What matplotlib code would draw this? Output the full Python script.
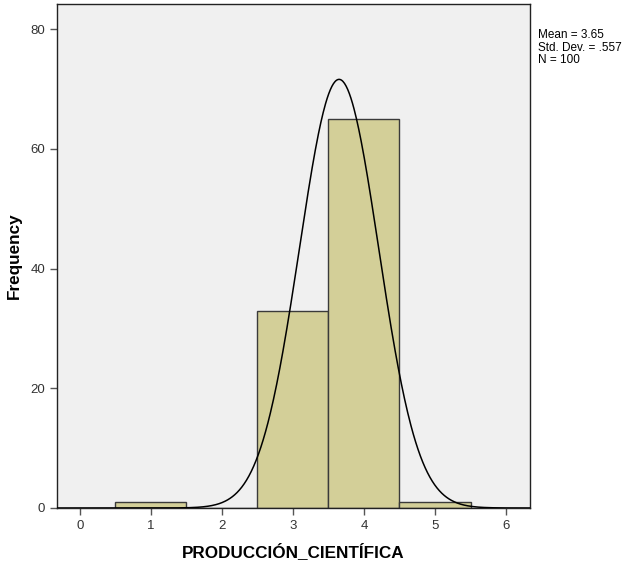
import numpy as np
import matplotlib
matplotlib.use("Agg")
import matplotlib.pyplot as plt

categories = [1, 2, 3, 4, 5]
counts = [1, 0, 33, 65, 1]
mean_val = 3.65
std_val = 0.557
n_val = 100
xticks = [0, 1, 2, 3, 4, 5, 6]
yticks = [0, 20, 40, 60, 80]

plt.rcParams['font.family'] = ['Liberation Sans', 'DejaVu Sans']

fig = plt.figure(figsize=(6.26, 5.63), dpi=100)
ax = fig.add_axes([0.091, 0.0977, 0.756, 0.895])
ax.set_facecolor('#F0F0F0')

ax.bar(categories, counts, width=1.0, color='#D3CF98', edgecolor='#3a3a3a', linewidth=1.0, zorder=2)

xs = np.linspace(-0.32, 6.34, 600)
ys = n_val * 1.0 / (std_val * np.sqrt(2 * np.pi)) * np.exp(-0.5 * ((xs - mean_val) / std_val) ** 2)
ax.plot(xs, ys, color='black', linewidth=1.1, zorder=3)

ax.set_xlim(-0.32, 6.34)
ax.set_ylim(0, 84.2)
ax.set_xticks(xticks)
ax.set_yticks(yticks)
ax.tick_params(axis='both', direction='out', length=5, width=1, color='#555555', labelsize=9.5, labelcolor='#333333')
for s in ax.spines.values():
    s.set_color('#222222')
    s.set_linewidth(1.0)

fig.text(0.468, 0.021, 'PRODUCCIÓN_CIENTÍFICA', fontsize=12.3, fontweight='bold', ha='center', va='center')
fig.text(0.023, 0.545, 'Frequency', fontsize=12.3, fontweight='bold', ha='center', va='center', rotation=90)

fig.text(0.859, 0.948, f'Mean = {mean_val}\nStd. Dev. = .557\nN = {n_val}', fontsize=8.5, va='top', ha='left', linespacing=1.05)

fig.savefig('out.png', dpi=100, facecolor='white')
